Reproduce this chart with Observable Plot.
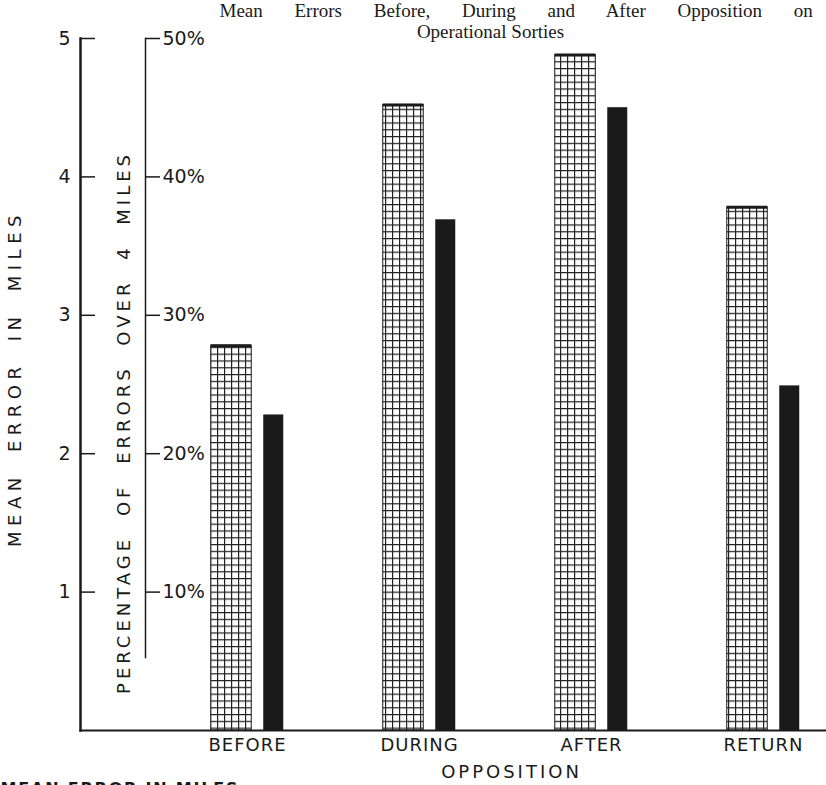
<!DOCTYPE html>
<html><head><meta charset="utf-8">
<script src="https://cdn.jsdelivr.net/npm/d3@7"></script>
<script src="https://cdn.jsdelivr.net/npm/@observablehq/plot@0.6"></script>
<style>body{margin:0;background:#fff;overflow:hidden}</style>
</head><body><div id="chart"></div>
<script>
// ---- data ----
const categories = ["BEFORE", "DURING", "AFTER", "RETURN"];
const meanErrorMiles = [2.78, 4.52, 4.88, 3.78];
const pctErrorsOver4 = [22.8, 36.9, 45.0, 24.9];
const mileTicks = [1, 2, 3, 4, 5];
const pctTicks = [10, 20, 30, 40, 50];
const titleLines = ["Mean Errors Before, During and After Opposition on", "Operational Sorties"];
const yLabelMiles = "MEAN ERROR IN MILES";
const yLabelPct = "PERCENTAGE OF ERRORS OVER 4 MILES";
const xLabel = "OPPOSITION";
const legendText = "MEAN ERROR IN MILES";

// ---- layout ----
const W = 826, H = 785, ML = 80, MR = 0, MT = 38, MB = 55;
const rows = categories.map((c, i) => ({category: c, miles: meanErrorMiles[i], pct: pctErrorsOver4[i]}));
const ink = "#1a1a1a";
const sans = "'DejaVu Sans', sans-serif";
const serif = "'Liberation Serif', 'DejaVu Serif', serif";

const plot = Plot.plot({
  width: W, height: H, marginLeft: ML, marginRight: MR, marginTop: MT, marginBottom: MB,
  style: {background: "#fff", color: ink, fontFamily: sans, overflow: "visible"},
  x: {domain: categories, range: [160, 850], padding: 0, axis: null},
  y: {domain: [0, 5], axis: null},
  marks: [
    // bars
    Plot.barY(rows, {x: "category", y: "miles", fill: "url(#grid)", stroke: ink, strokeWidth: 1, insetLeft: 49.75, insetRight: 81.75}),
    Plot.tickY(rows, {x: "category", y: "miles", stroke: ink, strokeWidth: 3, insetLeft: 49.75, insetRight: 81.75}),
    Plot.barY(rows, {x: "category", y: d => d.pct / 10, fill: ink, insetLeft: 102.25, insetRight: 49.75}),
    // axes lines
    Plot.frame({anchor: "left", stroke: ink, strokeWidth: 2.5}),
    Plot.frame({anchor: "bottom", stroke: ink, strokeWidth: 2}),
    Plot.frame({anchor: "left", stroke: ink, strokeWidth: 1.5, dx: 65, insetBottom: 73}),
    // left axis ticks & labels
    Plot.ruleY(mileTicks, {stroke: ink, strokeWidth: 1.5, insetLeft: 0, insetRight: W - ML - 15}),
    Plot.text(mileTicks, {y: d => d, text: d => String(d), frameAnchor: "left", dx: -10, textAnchor: "end", fontSize: 19, fill: ink}),
    // percent axis ticks & labels
    Plot.ruleY(pctTicks, {y: d => d / 10, stroke: ink, strokeWidth: 1.5, insetLeft: 65, insetRight: W - ML - 80}),
    Plot.text(pctTicks, {y: d => d / 10, text: d => d + "%", frameAnchor: "left", dx: 82, textAnchor: "start", fontSize: 19, fill: ink}),
    // category labels
    Plot.text(categories, {x: d => d, frameAnchor: "bottom", dy: 15, lineAnchor: "middle", fontSize: 18, fill: ink}),
    Plot.text([xLabel], {frameAnchor: "bottom", dx: 58, dy: 42, lineAnchor: "middle", fontSize: 18, fill: ink}),
    // rotated axis labels
    Plot.text([yLabelMiles], {frameAnchor: "left", rotate: -90, dx: -65, dy: -6, textAnchor: "middle", fontSize: 18, fill: ink}),
    Plot.text([yLabelPct], {frameAnchor: "left", rotate: -90, dx: 44, dy: 38, textAnchor: "middle", fontSize: 18, fill: ink}),
    // title
    Plot.text([titleLines[0]], {frameAnchor: "top-left", dx: 139, dy: -28, textAnchor: "start", lineAnchor: "middle", fontSize: 19, fontFamily: serif, fill: ink}),
    Plot.text([titleLines[1]], {frameAnchor: "top", dx: 37, dy: -7, textAnchor: "middle", lineAnchor: "middle", fontSize: 19, fontFamily: serif, fill: ink}),
    // cut-off legend text at bottom
    Plot.text([legendText], {frameAnchor: "bottom-left", dx: -80, dy: 58, textAnchor: "start", lineAnchor: "middle", fontSize: 16, fontWeight: "bold", fill: ink})
  ]
});

const svg = d3.select(plot);
svg.insert("defs", ":first-child").html(
  `<pattern id="grid" patternUnits="userSpaceOnUse" width="7" height="6.8">
     <rect width="7" height="6.8" fill="#fff"/>
     <path d="M0 0.6H7M0.6 0V6.8" stroke="#222" stroke-width="1.2" fill="none"/>
   </pattern>`);

function styleText(content, styles, which) {
  const nodes = svg.selectAll("text").filter(function () { return this.textContent === content; }).nodes();
  const list = which === "first" ? nodes.slice(0, 1) : which === "last" ? nodes.slice(-1) : nodes;
  list.forEach(n => { for (const k in styles) n.style.setProperty(k, styles[k]); });
}
styleText(titleLines[0], {"word-spacing": "27px"});
styleText(yLabelMiles, {"letter-spacing": "5.5px", "word-spacing": "9px"}, "first");
styleText(legendText, {"letter-spacing": "1.8px"}, "last");
styleText(yLabelPct, {"letter-spacing": "4px", "word-spacing": "10px"});
styleText(xLabel, {"letter-spacing": "3px"});
categories.forEach(c => styleText(c, {"letter-spacing": "1px"}));

document.getElementById("chart").appendChild(plot);
</script>
</body></html>
